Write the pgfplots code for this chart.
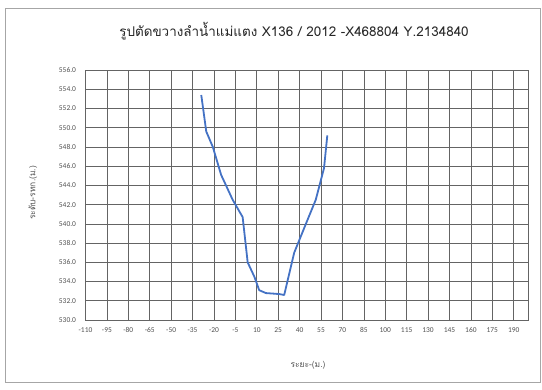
\documentclass[border=0pt]{standalone}
\usepackage{pgfplots}
\pgfplotsset{compat=1.18}
\usepackage{fontspec}
\setmainfont{Carlito}
\newfontfamily\thaifont[Script=Thai]{Loma}
\definecolor{lineblue}{RGB}{68,114,196}
\definecolor{gridgray}{RGB}{100,100,100}
\definecolor{txtgray}{RGB}{80,80,80}
\begin{document}
\begin{tikzpicture}[x=1bp,y=1bp]
\useasboundingbox (-85.5,-69) rectangle (456.5,320);
\draw[gray!70, line width=1bp] (-79.5,-62) rectangle (454.5,311);
\begin{axis}[
  scale only axis, width=442.5bp, height=250bp,
  xmin=-110, xmax=200, ymin=530, ymax=556,
  xtick={-110,-95,...,190},
  ytick={530,532,...,556},
  grid=major,
  major grid style={gridgray, line width=0.7bp},
  axis line style={gridgray, line width=0.7bp},
  tick style={draw=none},
  tick label style={font=\fontsize{7.5}{8}\selectfont, text=txtgray},
  /pgf/number format/assume math mode=true,
  yticklabel style={/pgf/number format/.cd, fixed, fixed zerofill, precision=1},
  xticklabel style={/pgf/number format/.cd, fixed, precision=0},
  yticklabel shift=6bp,
  xticklabel shift=4bp,
]
\addplot[lineblue, line width=1.8bp, line join=round] coordinates {
(-28.9,553.4)
(-25.4,549.6)
(-20.8,548.0)
(-15.0,545.1)
(-6.9,542.5)
(0.1,540.7)
(3.6,536.0)
(8.3,534.5)
(11.7,533.1)
(16.4,532.8)
(25.7,532.7)
(29.2,532.6)
(36.2,537.0)
(44.4,540.0)
(51.3,542.5)
(57.1,545.8)
(59.4,549.2)
};
\end{axis}
\node[font=\thaifont\fontsize{13.5}{15}\selectfont, text=black!85] at (208.5,289) {รูปตัดขวางลำน้ำแม่แตง X136 / 2012 -X468804 Y.2134840};
\node[font=\thaifont\fontsize{8.5}{10}\selectfont, text=txtgray, rotate=90] at (-52.5,127) {ระดับ-รทก.(ม.)};
\node[font=\thaifont\fontsize{8.5}{10}\selectfont, text=txtgray] at (222.5,-45) {ระยะ-(ม.)};
\end{tikzpicture}
\end{document}
